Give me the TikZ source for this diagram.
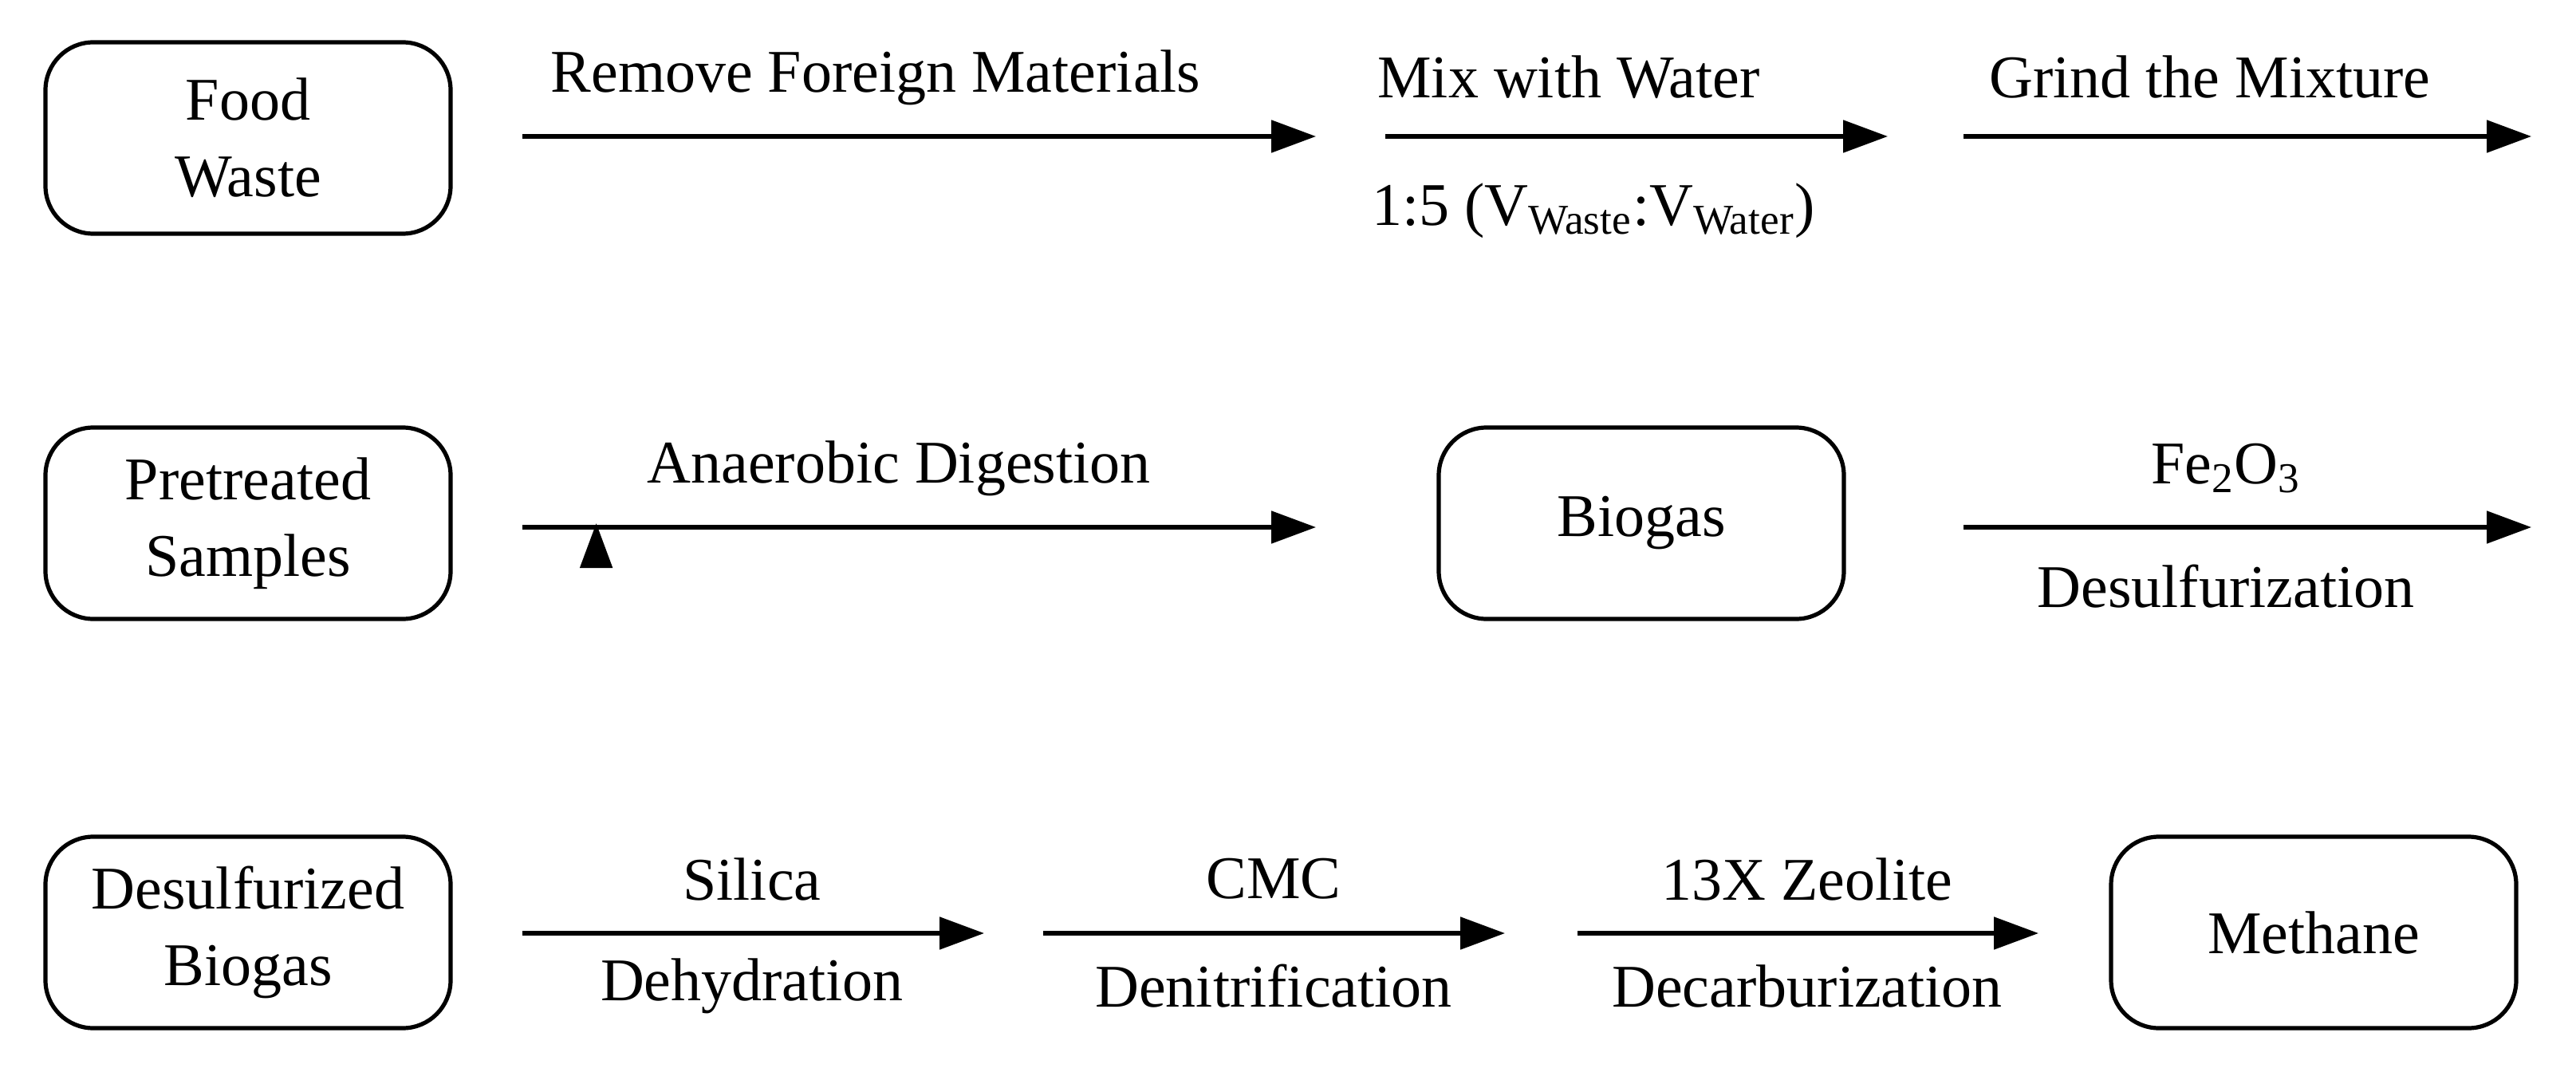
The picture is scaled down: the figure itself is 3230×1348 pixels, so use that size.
\documentclass[tikz,border=0pt]{standalone}
\usepackage{fontspec}
\setmainfont{Liberation Serif}
\usetikzlibrary{arrows.meta}
\begin{document}
\begin{tikzpicture}[x=0.25pt,y=-0.25pt,
  box/.style={draw,line width=1.3pt,rounded corners=15pt,minimum width=127pt,minimum height=60pt,align=center,font=\fontsize{19}{24}\selectfont},
  arr/.style={line width=1.3pt,-{Triangle[length=14pt,width=10pt]}},
  lab/.style={font=\fontsize{19}{24}\selectfont,align=center}]
\useasboundingbox (0,0) rectangle (3230,1348);
\node[box] (fw) at (311,173) {Food\\Waste};
\coordinate (a1s) at (655,171); \coordinate (a1e) at (1650,171);
\coordinate (a2s) at (1737,171); \coordinate (a2e) at (2367,171);
\coordinate (a3s) at (2462,171); \coordinate (a3e) at (3174,171);
\draw[arr] (a1s) -- (a1e);
\draw[arr] (a2s) -- (a2e);
\draw[arr] (a3s) -- (a3e);
\node[lab] (l1) at (1098,97) {Remove Foreign Materials};
\node[lab] (l2) at (1967,97) {Mix with Water};
\node[lab] (l2b) at (1998,264) {1:5 (V\textsubscript{Waste}:V\textsubscript{Water})};
\node[lab] (l3) at (2771,97) {Grind the Mixture};

\node[box] (ps) at (311,656) {Pretreated\\Samples};
\node[box] (bg) at (2058,656) {Biogas};
\coordinate (b3s) at (2462,661); \coordinate (b3e) at (3174,661);
\draw[arr] (ps.east)++(45pt,0) coordinate (b1s);
\draw[arr] (655,661) -- (1650,661);
\draw[arr] (b3s) -- (b3e);
\node[lab] (l4) at (1127,587) {Anaerobic Digestion};
\node[lab] (l5) at (2791,587) {Fe\textsubscript{2}O\textsubscript{3}};
\node[lab] (l6) at (2791,735) {Desulfurization};

\node[box] (db) at (311,1169) {Desulfurized\\Biogas};
\node[box] (me) at (2901,1169) {Methane};
\draw[arr] (655,1170) -- (1234,1170);
\draw[arr] (1308,1170) -- (1887,1170);
\draw[arr] (1978,1170) -- (2556,1170);
\node[lab] (s1) at (943,1102) {Silica};
\node[lab] (s2) at (943,1236) {Dehydration};
\node[lab] (s3) at (1597,1102) {CMC};
\node[lab] (s4) at (1597,1236) {Denitrification};
\node[lab] (s5) at (2266,1102) {13X Zeolite};
\node[lab] (s6) at (2266,1236) {Decarburization};
\end{tikzpicture}
\end{document}
